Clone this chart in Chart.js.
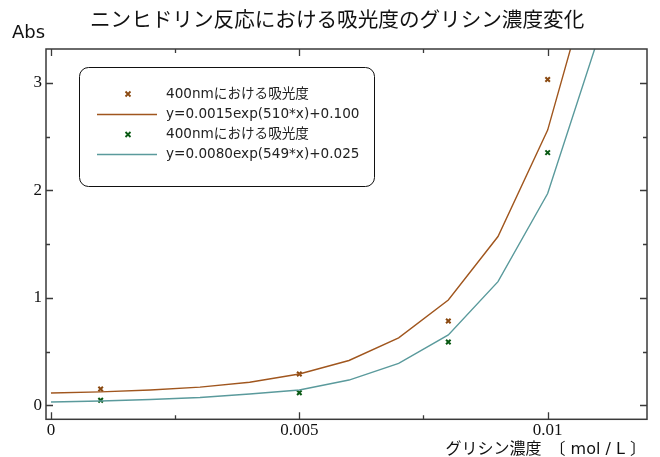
<!DOCTYPE html>
<html>
<head>
<meta charset="utf-8">
<script src="https://cdn.jsdelivr.net/npm/chart.js@4/dist/chart.umd.min.js"></script>
<style>
  html, body { margin: 0; padding: 0; background: #fff; }
  #wrap { width: 660px; height: 457px; }
</style>
</head>
<body>
<div id="wrap"><canvas id="abs_chart" width="660" height="457"></canvas></div>
<script>
// concentration (mol/L) for the fitted curves
const fitX = [0, 0.001, 0.002, 0.003, 0.004, 0.005, 0.006, 0.007, 0.008, 0.009, 0.010, 0.011];
const fitA = [0.115, 0.125, 0.142, 0.169, 0.215, 0.291, 0.417, 0.628, 0.98, 1.57, 2.56, 4.2];
const fitB = [0.031, 0.040, 0.054, 0.073, 0.105, 0.142, 0.235, 0.39, 0.655, 1.15, 1.97, 3.39];

// measured points
const measX = [0.001, 0.005, 0.008, 0.010];
const measA = [0.152, 0.291, 0.784, 3.03];
const measB = [0.047, 0.117, 0.589, 2.35];

const legendLabels = [
    '400nmにおける吸光度',
    'y=0.0015exp(510*x)+0.100',
    '400nmにおける吸光度',
    'y=0.0080exp(549*x)+0.025'
];
const xTickLabels = [0, 0.005, 0.01];
const yTickLabels = [0, 1, 2, 3];

const colA = '#a0561e';
const colAmark = '#8b4a12';
const colB = '#5a9a9c';
const colBmark = '#0a5a14';

function pts(xs, ys) {
    return xs.map(function (x, i) { return { x: x, y: ys[i] }; });
}

function isLabel(list, v) {
    return list.some(function (t) { return Math.abs(t - v) < 1e-9; });
}

const framePlugin = {
    id: 'frame',
    afterDraw: function (chart) {
        const c = chart.ctx;
        const a = chart.chartArea;
        const xs = chart.scales.x;
        const ys = chart.scales.y;
        c.save();
        c.strokeStyle = '#3a3a3a';
        c.lineWidth = 1.5;
        c.strokeRect(a.left, a.top, a.right - a.left, a.bottom - a.top);

        // inward ticks on all four sides
        c.lineWidth = 1.3;
        c.beginPath();
        xs.ticks.forEach(function (t) {
            const px = Math.round(xs.getPixelForValue(t.value)) + 0.5;
            const len = isLabel(xTickLabels, t.value) ? 7 : 4;
            c.moveTo(px, a.bottom); c.lineTo(px, a.bottom - len);
            c.moveTo(px, a.top); c.lineTo(px, a.top + len);
        });
        ys.ticks.forEach(function (t) {
            const py = Math.round(ys.getPixelForValue(t.value)) + 0.5;
            const len = isLabel(yTickLabels, t.value) ? 7 : 4;
            c.moveTo(a.left, py); c.lineTo(a.left + len, py);
            c.moveTo(a.right, py); c.lineTo(a.right - len, py);
        });
        c.stroke();

        // titles
        c.fillStyle = '#111';
        c.textBaseline = 'middle';
        c.font = '20.6px "Noto Sans CJK JP", "DejaVu Sans", sans-serif';
        c.textAlign = 'left';
        c.fillText('ニンヒドリン反応における吸光度のグリシン濃度変化', 90, 19);
        c.font = '18px "DejaVu Sans", sans-serif';
        c.fillText('Abs', 12, 33);
        c.font = '16px "DejaVu Sans", "Noto Sans CJK JP", sans-serif';
        c.textAlign = 'right';
        c.fillText('グリシン濃度　〔 mol / L 〕', 646, 450);

        // legend box
        const bx = 79, by = 67, bw = 295, bh = 119;
        c.strokeStyle = '#111';
        c.lineWidth = 1;
        c.beginPath();
        c.roundRect(bx + 0.5, by + 0.5, bw, bh, 9);
        c.fillStyle = '#fff';
        c.fill();
        c.stroke();

        const rows = [94, 114.5, 134.5, 154.5];
        c.font = '13.6px "DejaVu Sans", "Noto Sans CJK JP", sans-serif';
        c.textAlign = 'left';
        c.fillStyle = '#222';
        legendLabels.forEach(function (txt, i) {
            c.fillText(txt, 166, rows[i]);
        });
        // marker symbols
        [[rows[0], colAmark], [rows[2], colBmark]].forEach(function (m) {
            c.strokeStyle = m[1];
            c.lineWidth = 1.8;
            c.beginPath();
            c.moveTo(125.5, m[0] - 2.5); c.lineTo(130.5, m[0] + 2.5);
            c.moveTo(130.5, m[0] - 2.5); c.lineTo(125.5, m[0] + 2.5);
            c.stroke();
        });
        // line symbols
        [[rows[1], colA], [rows[3], colB]].forEach(function (m) {
            c.strokeStyle = m[1];
            c.lineWidth = 1.4;
            c.beginPath();
            c.moveTo(97, m[0]); c.lineTo(157, m[0]);
            c.stroke();
        });
        c.restore();
    }
};

const ctx = document.getElementById('abs_chart').getContext('2d');
new Chart(ctx, {
    type: 'scatter',
    data: {
        datasets: [
            {
                label: 'fitA', type: 'line', data: pts(fitX, fitA),
                borderColor: colA, borderWidth: 1.4, pointRadius: 0, fill: false, tension: 0
            },
            {
                label: 'fitB', type: 'line', data: pts(fitX, fitB),
                borderColor: colB, borderWidth: 1.4, pointRadius: 0, fill: false, tension: 0
            },
            {
                label: 'measA', data: pts(measX, measA),
                pointStyle: 'crossRot', pointRadius: 3.2, borderColor: colAmark, borderWidth: 2
            },
            {
                label: 'measB', data: pts(measX, measB),
                pointStyle: 'crossRot', pointRadius: 3.2, borderColor: colBmark, borderWidth: 2
            }
        ]
    },
    options: {
        responsive: false,
        animation: false,
        layout: { padding: { top: 49, right: 13, bottom: 0, left: 0 } },
        plugins: {
            legend: { display: false },
            tooltip: { enabled: false }
        },
        scales: {
            x: {
                type: 'linear',
                min: -0.0001,
                max: 0.012,
                grid: { display: false, drawTicks: false, tickLength: 0 },
                border: { display: false },
                afterFit: function (s) { s.height = 37.7; },
                ticks: {
                    stepSize: 0.0025,
                    includeBounds: false,
                    autoSkip: false,
                    maxRotation: 0,
                    padding: 1,
                    color: '#111',
                    font: { family: 'Liberation Serif', size: 17 },
                    callback: function (v) {
                        return isLabel(xTickLabels, v) ? String(Number(v.toFixed(4))) : '';
                    }
                }
            },
            y: {
                min: -0.13,
                max: 3.314,
                grid: { display: false, drawTicks: false, tickLength: 0 },
                border: { display: false },
                afterFit: function (s) { s.width = 46; },
                ticks: {
                    stepSize: 0.5,
                    includeBounds: false,
                    autoSkip: false,
                    padding: 4,
                    color: '#111',
                    font: { family: 'Liberation Serif', size: 17 },
                    callback: function (v) {
                        return isLabel(yTickLabels, v) ? String(v) : '';
                    }
                }
            }
        }
    },
    plugins: [framePlugin]
});
</script>
</body>
</html>
